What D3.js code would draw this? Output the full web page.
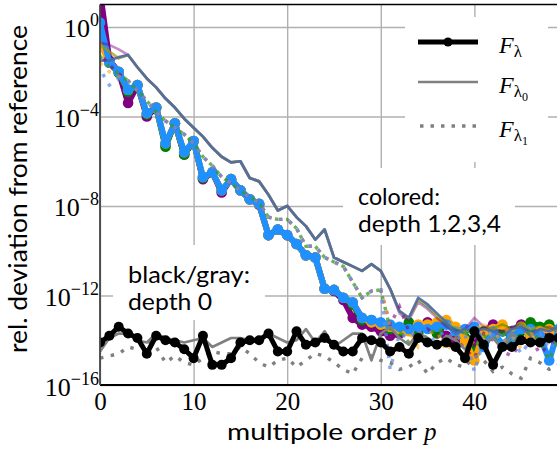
<!DOCTYPE html>
<html>
<head>
<meta charset="utf-8">
<script src="https://cdn.jsdelivr.net/npm/d3@7"></script>
<style>
  html, body { margin: 0; padding: 0; background: #fff; }
  svg { display: block; }
</style>
</head>
<body>
<svg id="chart" width="557" height="451"></svg>
<script>
// multipole order p
const orders = d3.range(0, 50);
const xTicks = [0, 10, 20, 30, 40];
const yTickExps = [0, -4, -8, -12, -16];

// every series is log10 of the relative deviation, one value per order p
// depth 0 (black / gray)
const d0Lam = [-14.1,-13.8,-13.4,-13.7,-13.9,-14.6,-13.8,-14.0,-14.1,-14.4,
  -14.8,-13.8,-15.1,-15.1,-14.8,-14.1,-14.0,-14.0,-13.7,-14.5,
  -14.5,-13.6,-14.2,-14.1,-13.9,-14.2,-14.5,-14.5,-13.9,-14.0,
  -14.1,-14.5,-14.3,-14.6,-13.9,-14.1,-14.2,-14.1,-14.3,-14.8,
  -13.6,-14.2,-15.1,-14.3,-14.3,-14.0,-14.1,-14.1,-13.9,-13.9];
const d0Lam0 = [-14.5,-13.9,-13.7,-13.7,-14.0,-14.1,-13.7,-13.9,-14.0,-14.1,
  -14.0,-13.9,-14.3,-14.1,-13.9,-13.9,-14.0,-14.1,-13.7,-13.9,
  -14.1,-14.0,-13.5,-14.1,-13.6,-14.3,-14.0,-13.7,-13.7,-14.9,
  -13.7,-13.4,-13.9,-14.2,-13.7,-13.9,-14.3,-13.8,-14.0,-14.4,
  -13.8,-14.1,-13.9,-14.4,-13.7,-14.0,-14.2,-13.9,-14.1,-13.8];
const d0Lam1 = [-14.8,-14.7,-14.6,-14.3,-14.4,-14.0,-14.3,-15.0,-14.7,-15.0,
  -15.1,-14.8,-14.5,-14.6,-14.6,-14.3,-14.6,-15.0,-15.2,-14.9,
  -14.8,-15.2,-14.9,-14.6,-14.7,-15.0,-15.3,-15.5,-14.8,-14.7,
  -14.9,-15.0,-15.3,-15.2,-14.9,-15.5,-15.0,-14.8,-15.1,-15.2,
  -14.7,-14.9,-15.4,-15.2,-15.5,-15.7,-14.8,-15.0,-15.3,-15.1];

// colored depths 1..4, F_lambda (thick with markers)
const d1Lam = [1.6,-1.5,-2.0,-3.4,-2.6,-4.0,-3.6,-5.25,-4.3,-5.7,
  -5.1,-6.8,-6.5,-7.4,-6.8,-7.3,-7.7,-7.95,-9.3,-9.05,
  -9.3,-9.7,-10.2,-10.3,-11.7,-11.8,-12.2,-13.0,-13.3,-13.4,
  -13.6,-13.8,-13.7,-13.4,-13.7,-13.2,-13.5,-13.8,-14.0,-13.9,
  -14.2,-13.6,-13.3,-13.4,-13.6,-13.3,-13.9,-13.5,-13.7,-13.8];
const d2Lam = [-0.5,-1.6,-2.05,-2.9,-2.6,-3.9,-3.6,-5.35,-4.3,-5.7,
  -5.1,-6.75,-6.5,-7.3,-6.8,-7.3,-7.7,-7.9,-9.3,-9.05,
  -9.3,-9.7,-10.2,-10.3,-11.7,-11.75,-12.1,-12.4,-13.1,-13.1,
  -13.3,-13.5,-13.6,-13.2,-13.6,-13.4,-13.7,-13.2,-13.5,-13.9,
  -14.6,-13.8,-13.6,-13.5,-13.9,-13.6,-13.2,-13.4,-13.3,-13.6];
const d3Lam = [-0.7,-1.6,-2.0,-2.8,-2.6,-3.85,-3.6,-5.2,-4.3,-5.6,
  -5.1,-6.7,-6.5,-7.3,-6.8,-7.3,-7.7,-7.9,-9.3,-9.05,
  -9.3,-9.7,-10.2,-10.3,-11.7,-11.75,-12.1,-12.3,-13.0,-13.2,
  -13.3,-13.4,-13.5,-13.6,-13.3,-13.3,-13.2,-13.1,-13.4,-14.0,
  -14.9,-13.7,-13.5,-13.3,-13.7,-13.4,-13.8,-13.6,-13.5,-13.7];
const d4Lam = [0.2,-1.6,-2.0,-2.8,-2.6,-3.85,-3.6,-5.2,-4.3,-5.6,
  -5.1,-6.7,-6.5,-7.3,-6.8,-7.3,-7.7,-7.9,-9.3,-9.05,
  -9.3,-9.7,-10.2,-10.3,-11.7,-11.75,-12.1,-12.3,-13.0,-13.1,
  -13.2,-13.3,-13.4,-13.5,-13.4,-13.5,-13.4,-13.3,-13.6,-13.5,
  -13.4,-14.3,-13.6,-14.2,-13.8,-13.5,-13.5,-13.8,-14.9,-13.5];

// colored depths, F_lambda0 (thin solid)
const d1Lam0 = [-0.7,-0.8,-1.0,-1.25,-1.8,-2.3,-2.7,-3.2,-3.6,-4.1,
  -4.5,-4.9,-5.4,-5.8,-6.05,-6.0,-6.75,-6.9,-7.5,-8.2,
  -8.0,-8.5,-8.9,-9.5,-9.05,-10.3,-10.5,-10.7,-10.9,-10.6,
  -10.9,-11.7,-12.8,-13.1,-12.3,-12.6,-13.0,-13.4,-13.6,-13.5,
  -13.0,-13.4,-13.5,-13.6,-13.4,-13.3,-13.7,-13.5,-13.4,-13.6];
const d2Lam0 = [-0.8,-1.1,-1.4,-1.25,-1.8,-2.3,-2.7,-3.2,-3.6,-4.1,
  -4.5,-4.9,-5.4,-5.8,-6.05,-6.0,-6.75,-6.9,-7.5,-8.2,
  -8.0,-8.5,-8.9,-9.5,-9.05,-10.3,-10.5,-10.7,-10.9,-10.6,
  -10.9,-11.7,-12.7,-13.0,-12.2,-12.5,-12.9,-13.3,-13.5,-13.7,
  -13.6,-13.4,-13.5,-13.3,-13.5,-13.2,-13.6,-13.3,-13.5,-13.5];
const d3Lam0 = [-0.8,-1.1,-1.4,-1.25,-1.8,-2.3,-2.7,-3.2,-3.6,-4.1,
  -4.5,-4.9,-5.4,-5.8,-6.05,-6.0,-6.75,-6.9,-7.5,-8.2,
  -8.0,-8.5,-8.9,-9.5,-9.05,-10.3,-10.5,-10.7,-10.9,-10.6,
  -10.9,-11.7,-12.7,-13.0,-12.2,-12.4,-12.9,-13.2,-13.4,-13.6,
  -13.5,-13.3,-13.5,-13.4,-13.6,-13.3,-13.5,-13.4,-13.6,-13.5];
const d4Lam0 = [-1.5,-1.5,-1.35,-1.25,-1.8,-2.3,-2.7,-3.2,-3.6,-4.1,
  -4.5,-4.9,-5.4,-5.8,-6.05,-6.0,-6.75,-6.9,-7.5,-8.2,
  -8.0,-8.5,-8.9,-9.5,-9.05,-10.3,-10.5,-10.7,-10.9,-10.6,
  -10.9,-11.7,-12.7,-13.0,-12.1,-12.4,-12.8,-13.2,-13.7,-13.5,
  -13.6,-13.5,-13.6,-13.8,-13.5,-13.4,-13.8,-13.5,-13.6,-13.4];

// colored depths, F_lambda1 (dotted)
const d1Lam1 = [-1.2,-1.7,-2.1,-2.4,-2.85,-3.3,-3.8,-4.2,-4.5,-4.8,
  -5.2,-5.8,-6.2,-6.7,-7.0,-7.3,-7.6,-7.85,-8.5,-8.6,
  -8.6,-9.0,-9.8,-9.8,-10.3,-10.5,-10.7,-11.4,-12.1,-11.8,
  -11.75,-13.3,-12.5,-13.6,-14.0,-13.5,-13.8,-14.2,-13.9,-14.4,
  -14.8,-13.7,-14.0,-14.5,-14.7,-14.1,-13.9,-14.6,-14.2,-14.0];
const d2Lam1 = [-1.3,-1.8,-2.1,-2.4,-2.85,-3.3,-3.8,-4.2,-4.5,-4.8,
  -5.2,-5.8,-6.2,-6.7,-7.0,-7.3,-7.6,-7.85,-8.5,-8.6,
  -8.6,-9.0,-9.8,-9.8,-10.3,-10.5,-10.7,-11.4,-12.1,-11.8,
  -11.75,-13.5,-13.6,-14.1,-13.7,-13.9,-13.4,-13.8,-14.0,-13.6,
  -14.3,-13.8,-14.0,-13.7,-14.2,-13.9,-13.6,-14.0,-14.9,-13.8];
const d3Lam1 = [-1.6,-2.0,-2.2,-2.4,-2.85,-3.3,-3.8,-4.2,-4.5,-4.8,
  -5.2,-5.8,-6.2,-6.7,-7.0,-7.3,-7.6,-7.85,-8.5,-8.6,
  -8.6,-9.0,-9.8,-9.8,-10.3,-10.5,-10.7,-11.4,-12.1,-11.8,
  -11.75,-13.4,-13.8,-13.6,-14.3,-13.7,-13.6,-14.5,-13.9,-13.7,
  -14.2,-13.9,-13.6,-14.1,-13.8,-14.4,-13.7,-13.9,-14.1,-13.6];
const d4Lam1 = [-1.9,-2.6,-2.3,-2.4,-2.85,-3.3,-3.8,-4.2,-4.5,-4.8,
  -5.2,-5.8,-6.2,-6.7,-7.0,-7.3,-7.6,-7.85,-8.5,-8.6,
  -8.6,-9.0,-9.8,-9.8,-10.3,-10.5,-10.7,-11.4,-12.1,-11.8,
  -11.75,-15.3,-13.7,-13.9,-13.5,-14.2,-13.8,-13.6,-14.0,-13.7,
  -15.4,-14.0,-13.8,-14.3,-13.9,-14.6,-14.0,-13.7,-14.4,-13.9];

const annotations = [
  { lines: ["colored:", "depth 1,2,3,4"] },
  { lines: ["black/gray:", "depth 0"] }
];

(function () {
  const svg = d3.select("#chart");
  const pL = 100, pR = 558.6, pT = 4.6, pB = 385;
  const x = d3.scaleLinear().domain([0, 49]).range([pL, pR]);
  const y = d3.scaleLog().domain([1e-16, 1e1]).range([pB, pT]);
  const toVal = e => Math.pow(10, e);
  const serif = "'Liberation Serif', 'DejaVu Serif', serif";
  const sans = "Lato, 'DejaVu Sans', sans-serif";

  // grid + tick labels
  const gx = svg.append("g").attr("transform", `translate(0,${pB})`)
    .call(d3.axisBottom(x).tickValues(xTicks).tickSize(-(pB - pT)).tickFormat(""));
  gx.select(".domain").remove();
  gx.selectAll(".tick line").attr("stroke", "#b0b0b0").attr("stroke-width", 1.4);
  gx.selectAll(".tick text").remove();
  gx.selectAll(".tick").append("text")
    .attr("y", 25).attr("text-anchor", "middle")
    .attr("font-family", serif).attr("font-size", 25).attr("fill", "#000")
    .text(d => d);

  const gy = svg.append("g").attr("transform", `translate(${pL},0)`)
    .call(d3.axisLeft(y).tickValues(yTickExps.map(toVal)).tickSize(-(pR - pL)).tickFormat(""));
  gy.select(".domain").remove();
  gy.selectAll(".tick line").attr("stroke", "#b0b0b0").attr("stroke-width", 1.4);
  gy.selectAll(".tick text").remove();
  gy.selectAll(".tick").append("text")
    .attr("x", -1).attr("y", 10).attr("text-anchor", "end")
    .attr("font-family", serif).attr("font-size", 26).attr("fill", "#000")
    .call(t => {
      t.append("tspan").text("10");
      t.append("tspan").attr("dy", -11).attr("font-size", 18)
        .text(d => String(Math.round(Math.log10(d))).replace("-", "\u2212"));
    });

  // data, clipped to the axes box
  svg.append("defs").append("clipPath").attr("id", "plot-clip")
    .append("rect").attr("x", pL).attr("y", pT)
    .attr("width", pR - pL).attr("height", pB - pT);
  const plot = svg.append("g").attr("clip-path", "url(#plot-clip)");

  const line = d3.line().x((d, i) => x(orders[i])).y(d => y(toVal(d)));

  function drawThick(vals, color, width, r) {
    plot.append("path").attr("d", line(vals))
      .attr("fill", "none").attr("stroke", color).attr("stroke-width", width)
      .attr("stroke-linejoin", "round");
    plot.append("g").selectAll("circle").data(vals).join("circle")
      .attr("cx", (d, i) => x(orders[i])).attr("cy", d => y(toVal(d)))
      .attr("r", r).attr("fill", color);
  }
  function drawThin(vals, color, opacity) {
    plot.append("path").attr("d", line(vals))
      .attr("fill", "none").attr("stroke", color).attr("stroke-width", 2.7)
      .attr("stroke-opacity", opacity).attr("stroke-linejoin", "round");
  }
  function drawDotted(vals, color, opacity, offset) {
    plot.append("path").attr("d", line(vals))
      .attr("fill", "none").attr("stroke", color).attr("stroke-width", 3.4)
      .attr("stroke-opacity", opacity)
      .attr("stroke-dasharray", "3.5,7.5").attr("stroke-dashoffset", offset);
  }

  // colored depths 1..4
  drawThick(d1Lam, "#800080", 6, 5.3);
  drawThick(d2Lam, "#008000", 6, 5.3);
  drawThick(d3Lam, "#ffa500", 6, 5.3);
  drawThick(d4Lam, "#1e90ff", 6, 5.3);

  drawThin(d1Lam0, "#800080", 0.45);
  drawThin(d2Lam0, "#008000", 0.45);
  drawThin(d3Lam0, "#ffa500", 0.45);
  drawThin(d4Lam0, "#4a6aa6", 0.9);

  drawDotted(d1Lam1, "#800080", 0.6, 5.5);
  drawDotted(d3Lam1, "#ffa500", 0.6, 0);
  drawDotted(d2Lam1, "#3c9a1e", 0.75, 0);
  drawDotted(d4Lam1, "#5a8cf0", 0.75, 5.5);

  // depth 0
  drawThin(d0Lam0, "#808080", 1);
  drawDotted(d0Lam1, "#808080", 1, 0);
  drawThick(d0Lam, "#000", 5, 5);

  // spines
  svg.append("line").attr("x1", pL).attr("x2", pR).attr("y1", pT).attr("y2", pT)
    .attr("stroke", "#000").attr("stroke-width", 1.5);
  svg.append("line").attr("x1", pL).attr("x2", pR).attr("y1", pB).attr("y2", pB)
    .attr("stroke", "#000").attr("stroke-width", 1.8);
  svg.append("line").attr("x1", pL).attr("x2", pL).attr("y1", pT).attr("y2", pB)
    .attr("stroke", "#444").attr("stroke-width", 1.8);

  // text boxes
  const boxes = [
    { x: 343, y: 168, w: 172, h: 77, tx: 358, ty: 205, widths: [82, 143] },
    { x: 113, y: 245, w: 152, h: 75, tx: 128, ty: 283, widths: [122, 84] }
  ];
  annotations.forEach((a, k) => {
    const b = boxes[k];
    svg.append("rect").attr("x", b.x).attr("y", b.y).attr("width", b.w).attr("height", b.h)
      .attr("fill", "#fff");
    a.lines.forEach((s, j) => {
      svg.append("text").attr("x", b.tx).attr("y", b.ty + j * 27)
        .attr("font-family", sans).attr("font-size", 23).attr("fill", "#000")
        .attr("textLength", b.widths[j]).attr("lengthAdjust", "spacingAndGlyphs")
        .text(s);
    });
  });

  // legend
  const lg = svg.append("g");
  lg.append("rect").attr("x", 405).attr("y", 17).attr("width", 143).attr("height", 145).attr("fill", "#fff");
  const legendRows = [
    { y: 42, sub: "\u03bb", subsub: "" },
    { y: 82, sub: "\u03bb", subsub: "0" },
    { y: 126, sub: "\u03bb", subsub: "1" }
  ];
  lg.append("line").attr("x1", 418).attr("x2", 478).attr("y1", 42).attr("y2", 42)
    .attr("stroke", "#000").attr("stroke-width", 5);
  lg.append("circle").attr("cx", 448).attr("cy", 42).attr("r", 4.5).attr("fill", "#000");
  lg.append("line").attr("x1", 418).attr("x2", 478).attr("y1", 82).attr("y2", 82)
    .attr("stroke", "#808080").attr("stroke-width", 2.7);
  lg.append("line").attr("x1", 420).attr("x2", 478).attr("y1", 126).attr("y2", 126)
    .attr("stroke", "#808080").attr("stroke-width", 3.4).attr("stroke-dasharray", "3.5,7");
  legendRows.forEach(r => {
    const t = lg.append("text").attr("x", 499).attr("y", r.y + 11)
      .attr("font-family", serif).attr("font-size", 24).attr("fill", "#000");
    t.append("tspan").attr("font-style", "italic").text("F");
    t.append("tspan").attr("dx", 0).attr("dy", 4).attr("font-size", 17).text(r.sub);
    if (r.subsub) t.append("tspan").attr("dy", 4).attr("font-size", 12).text(r.subsub);
  });

  // axis labels
  svg.append("text").attr("x", 227).attr("y", 440)
    .attr("font-family", sans).attr("font-size", 23).attr("fill", "#000")
    .attr("textLength", 190).attr("lengthAdjust", "spacingAndGlyphs")
    .text("multipole order");
  svg.append("text").attr("x", 424).attr("y", 440)
    .attr("font-family", serif).attr("font-style", "italic").attr("font-size", 25).attr("fill", "#000")
    .text("p");
  svg.append("text")
    .attr("transform", "translate(27,189) rotate(-90)")
    .attr("text-anchor", "middle")
    .attr("font-family", sans).attr("font-size", 25).attr("fill", "#000")
    .attr("textLength", 328).attr("lengthAdjust", "spacingAndGlyphs")
    .text("rel. deviation from reference");
})();
</script>
</body>
</html>
